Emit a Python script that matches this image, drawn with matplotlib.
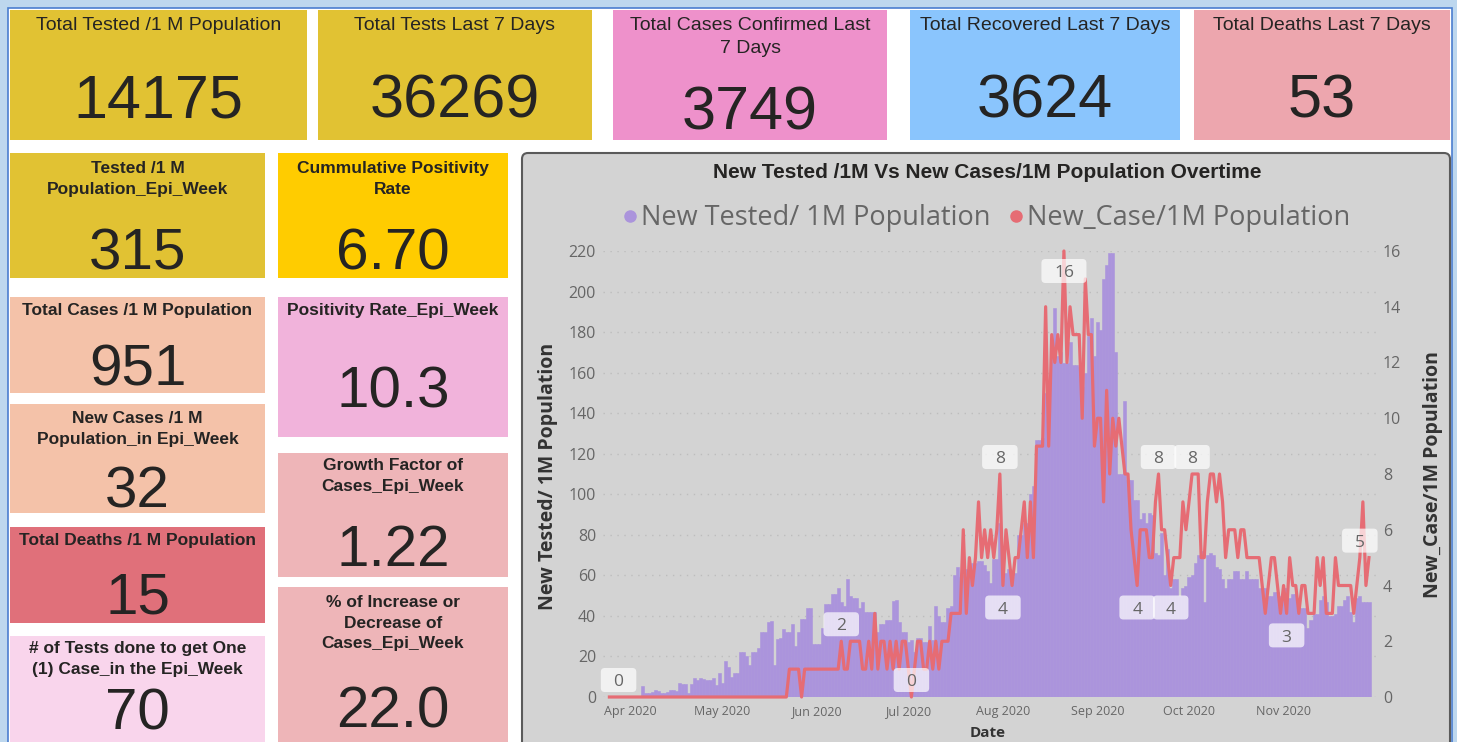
import matplotlib
matplotlib.use("Agg")
import matplotlib.pyplot as plt
import matplotlib.dates as mdates
from matplotlib import font_manager
from matplotlib.patches import Rectangle, FancyBboxPatch
from matplotlib.lines import Line2D
from matplotlib.transforms import ScaledTranslation
import pandas as pd

W, H = 1457, 742

# ---------------------------------------------------------------- data
start_date = "2020-03-25"

new_tested_per_1m = [
    0, 0, 0, 0, 0, 0, 0, 0, 0, 0,
    0, 5.4, 2, 2.2, 2.5, 3.4, 3, 2.2, 2.2, 2.5,
    3.5, 3.5, 3, 6.9, 6.4, 6.4, 2, 6.5, 9.4, 8.3,
    9.4, 9, 8.3, 8.3, 9.4, 6, 11.8, 6.9, 17.7, 14.8,
    10, 12, 12, 22, 22, 20, 16, 22, 22, 24,
    32, 32, 37, 37.6, 16, 28.6, 29, 33.5, 32, 32,
    36, 25, 32, 38.5, 38.5, 44, 44, 26, 26, 26,
    34, 46, 46, 50.8, 50.8, 54, 47, 45, 58, 50,
    49, 49, 44, 47, 42, 42, 42, 42, 32, 36,
    36, 38, 38, 47.5, 48, 37, 32, 32, 27, 28,
    22, 29, 29, 27, 27, 35, 28, 45, 40, 37,
    37, 44, 45, 60, 64, 59, 60, 63, 63, 66,
    66, 67, 67, 65, 62, 56, 68, 68, 86, 61,
    61, 63, 59, 61, 80, 80, 86, 86, 100, 104,
    127, 127, 128, 150, 150, 176, 192, 168, 170, 165,
    165, 175, 164, 164, 163, 153, 160, 178, 187, 168,
    185, 181, 206, 213, 219, 219, 170, 110, 110, 146,
    107, 107, 97, 97, 88, 91, 86, 91, 90, 71,
    70, 81, 60, 73, 54, 58, 58, 50, 54, 55,
    59, 60, 66, 70, 72, 47, 70, 71, 70, 64,
    63, 58, 54, 58, 58, 62, 62, 58, 58, 62,
    58, 58, 58, 54, 54, 54, 50, 50, 52, 52,
    50, 54, 54, 49, 51, 51, 48, 44, 44, 34,
    38, 41, 41, 48, 50, 47, 40, 40, 41, 45,
    45, 48, 50, 42, 37, 49, 50, 47, 47, 47,
]

new_cases_per_1m = [
    0, 0, 0, 0, 0, 0, 0, 0, 0, 0,
    0, 0, 0, 0, 0, 0, 0, 0, 0, 0,
    0, 0, 0, 0, 0, 0, 0, 0, 0, 0,
    0, 0, 0, 0, 0, 0, 0, 0, 0, 0,
    0, 0, 0, 0, 0, 0, 0, 0, 0, 0,
    0, 0, 0, 0, 0, 0, 0, 0, 0, 1,
    1, 1, 1, 0, 1, 1, 1, 1, 1, 1,
    1, 1, 1, 1, 1, 1, 2, 1, 1, 2,
    2, 2, 2, 1, 1, 2, 1, 3, 1, 2,
    2, 1, 2, 1, 2, 1, 2, 2, 1, 0,
    1, 2, 2, 1, 1, 2, 1, 2, 1, 2,
    2, 2, 3, 3, 3, 3, 6, 3, 5, 4,
    5, 7, 5, 6, 5, 6, 5, 6, 8, 4,
    6, 5, 4, 5, 5, 6, 7, 5, 7, 5,
    9, 9, 9, 14, 9, 13, 12, 13, 12, 16,
    12, 14, 13, 13, 13, 10, 15, 13, 13, 9,
    10, 10, 7, 11, 8, 10, 9, 10, 9, 8,
    8, 6, 5, 4, 6, 6, 6, 5, 5, 7,
    8, 6, 6, 5, 4, 5, 5, 5, 7, 6,
    7, 8, 8, 8, 5, 5, 7, 8, 8, 7,
    8, 7, 5, 6, 6, 6, 5, 6, 6, 5,
    5, 5, 5, 5, 4, 3, 4, 5, 5, 4,
    3, 4, 3, 5, 4, 4, 3, 4, 4, 3,
    3, 3, 5, 4, 5, 3, 3, 3, 5, 4,
    4, 4, 4, 4, 3, 4, 5, 7, 4, 5,
]

# days that carry a data label on the case line, and whether it sits below
label_days = [3, 76, 99, 128, 129, 149, 173, 180, 184, 191, 222, 246]
label_below = [False, False, False, False, True, True, True, False, True, False, True, False]

card_titles = [
    "Total Tested /1 M Population", "Total Tests Last 7 Days",
    "Total Cases Confirmed Last\n7 Days", "Total Recovered Last 7 Days",
    "Total Deaths Last 7 Days",
    "Tested /1 M\nPopulation_Epi_Week", "Total Cases /1 M Population",
    "New Cases /1 M\nPopulation_in Epi_Week", "Total Deaths /1 M Population",
    "# of Tests done to get One\n(1) Case_in the Epi_Week",
    "Cummulative Positivity\nRate", "Positivity Rate_Epi_Week",
    "Growth Factor of\nCases_Epi_Week", "% of Increase or\nDecrease of\nCases_Epi_Week",
]
card_values = ["14175", "36269", "3749", "3624", "53",
               "315", "951", "32", "15", "70",
               "6.70", "10.3", "1.22", "22.0"]

# ---------------------------------------------------------------- layout (pixels)
card_boxes = [
    (10, 10, 307, 140), (318, 10, 592, 140), (613, 10, 887, 140),
    (910, 10, 1180, 140), (1194, 10, 1450, 140),
    (10, 153, 265, 278), (10, 297, 265, 393), (10, 404, 265, 513),
    (10, 527, 265, 623), (10, 636, 265, 760),
    (278, 153, 508, 278), (278, 297, 508, 437), (278, 453, 508, 577),
    (278, 587, 508, 760),
]
card_colors = ["#E1C233", "#E1C233", "#EE91CB", "#8AC5FD", "#EDA6AE",
               "#E1C233", "#F4C2A9", "#F4C2A9", "#E0707A", "#F9D5EC",
               "#FFCC00", "#F1B3DB", "#EEB5B8", "#EEB5B8"]
title_y = [26, 26, 37, 26, 26, 179, 310, 429, 540, 659, 179, 311, 476, 623]
value_base = [118, 118, 130, 118, 118, 270, 386, 508, 613, 730, 270, 408, 566, 728]

installed = {f.name for f in font_manager.fontManager.ttflist}
CARD_FONT = next((f for f in ["Liberation Sans", "Arial", "DejaVu Sans"] if f in installed), "DejaVu Sans")
UI_FONT = next((f for f in ["Open Sans", "Noto Sans", "DejaVu Sans"] if f in installed), "DejaVu Sans")

TXT = "#252423"
GREY = "#666666"
PURPLE = "#AB94DC"
RED = "#E66C74"

fig = plt.figure(figsize=(W / 100, H / 100), dpi=100, facecolor="#BDD7EE")

bg = fig.add_axes([0, 0, 1, 1])
bg.set_xlim(0, W)
bg.set_ylim(H, 0)
bg.axis("off")
bg.add_patch(Rectangle((8, 8), W - 13, H, facecolor="white", edgecolor="#4A7ECF", lw=1.2))

for i, (box, col) in enumerate(zip(card_boxes, card_colors)):
    x0, y0, x1, y1 = box
    bg.add_patch(Rectangle((x0, y0), x1 - x0, y1 - y0, facecolor=col, edgecolor="none"))
    cx = (x0 + x1) / 2
    top_row = i < 5
    bg.text(cx, title_y[i], card_titles[i], ha="center", va="center",
            fontsize=14 if top_row else 12.5,
            fontweight="normal" if top_row else "bold",
            family=CARD_FONT, color=TXT, linespacing=1.43)
    bg.text(cx, value_base[i], card_values[i], ha="center", va="baseline",
            fontsize=44 if top_row else 42, family=CARD_FONT, color=TXT)

# chart panel
bg.add_patch(FancyBboxPatch((522, 153), 928, 600,
                            boxstyle="round,pad=0,rounding_size=6",
                            facecolor="#D3D3D3", edgecolor="#5A5A5A", lw=1.5))

fig.text(987 / W, 1 - 173 / H, "New Tested /1M Vs New Cases/1M Population Overtime",
         ha="center", va="center", fontsize=15, fontweight="bold",
         family=CARD_FONT, color=TXT)

# ---------------------------------------------------------------- chart
dates = pd.date_range(start_date, periods=len(new_tested_per_1m), freq="D")

ax = fig.add_axes([603 / W, (H - 697) / H, 773 / W, 446 / H])
ax.patch.set_visible(False)
ax2 = ax.twinx()

ax.bar(dates, new_tested_per_1m, width=1.0, color=PURPLE, edgecolor=PURPLE,
       linewidth=0.4, zorder=2)
ax2.plot(dates, new_cases_per_1m, color=RED, lw=2.3, zorder=3, clip_on=False)

d0 = mdates.date2num(dates[0])
ax.set_xlim(d0 - 2.1, d0 + 251.3)
ax.set_ylim(0, 220)
ax2.set_ylim(0, 16)
ax.set_yticks(range(0, 221, 20))
ax2.set_yticks(range(0, 17, 2))

ax.xaxis.set_major_locator(mdates.MonthLocator(bymonth=range(4, 12)))
ax.xaxis.set_major_formatter(mdates.DateFormatter("%b %Y"))

ax.yaxis.grid(True, linestyle=(0, (1, 4)), color="#BDBDBD", lw=1.0)
ax.set_axisbelow(True)
for a in (ax, ax2):
    for s in a.spines.values():
        s.set_visible(False)
    a.tick_params(length=0)
ax.tick_params(axis="y", labelsize=11.5, labelcolor=GREY, pad=5)
ax.tick_params(axis="x", labelsize=9, labelcolor=GREY, pad=6)
ax2.tick_params(axis="y", labelsize=11.5, labelcolor=GREY, pad=5)
for t in ax.get_xticklabels() + ax.get_yticklabels() + ax2.get_yticklabels():
    t.set_family(UI_FONT)

ax.set_ylabel("New Tested/ 1M Population", fontsize=14, fontweight="bold",
              color="#333333", family=UI_FONT, va="center")
ax.yaxis.set_label_coords(-0.0712, 0.4955)
ax2.set_ylabel("New_Case/1M Population", fontsize=14, fontweight="bold",
               color="#333333", family=UI_FONT, va="center", rotation=90)
ax2.yaxis.set_label_coords(1.0737, 0.498)
ax.set_xlabel("Date", fontsize=11, fontweight="bold", color="#333333",
              family=UI_FONT, va="center")
ax.xaxis.set_label_coords(0.497, -0.0807)

# data labels on the case line
for day, below in zip(label_days, label_below):
    val = new_cases_per_1m[day]
    s = str(val)
    tr = fig.dpi_scale_trans + ScaledTranslation(mdates.date2num(dates[day]), val, ax2.transData)
    dy = (-22 if below else 17) / 100
    if day == 149:
        dy = -0.20
    bw = (26 + 9.5 * len(s)) / 100
    bh = 0.24
    box = FancyBboxPatch((-bw / 2, dy - bh / 2), bw, bh,
                         boxstyle="round,pad=0,rounding_size=0.04",
                         facecolor="white", edgecolor="none", alpha=0.7,
                         transform=tr, zorder=5)
    box.set_clip_on(False)
    ax2.add_artist(box)
    ax2.text(0, dy - 0.062, s, transform=tr, ha="center", va="baseline",
             fontsize=12.5, color=GREY, family=UI_FONT, zorder=6, clip_on=False)

handles = [Line2D([], [], marker="o", ls="none", color=PURPLE, markersize=8),
           Line2D([], [], marker="o", ls="none", color=RED, markersize=8)]
fig.legend(handles, ["New Tested/ 1M Population", "New_Case/1M Population"],
           loc="center", bbox_to_anchor=(987 / W, 1 - 218 / H), ncol=2,
           frameon=False, handlelength=0.5, handletextpad=0.15,
           columnspacing=0.7, labelcolor=GREY,
           prop={"family": UI_FONT, "size": 19.5})

fig.savefig("out.png", dpi=100, facecolor=fig.get_facecolor())
